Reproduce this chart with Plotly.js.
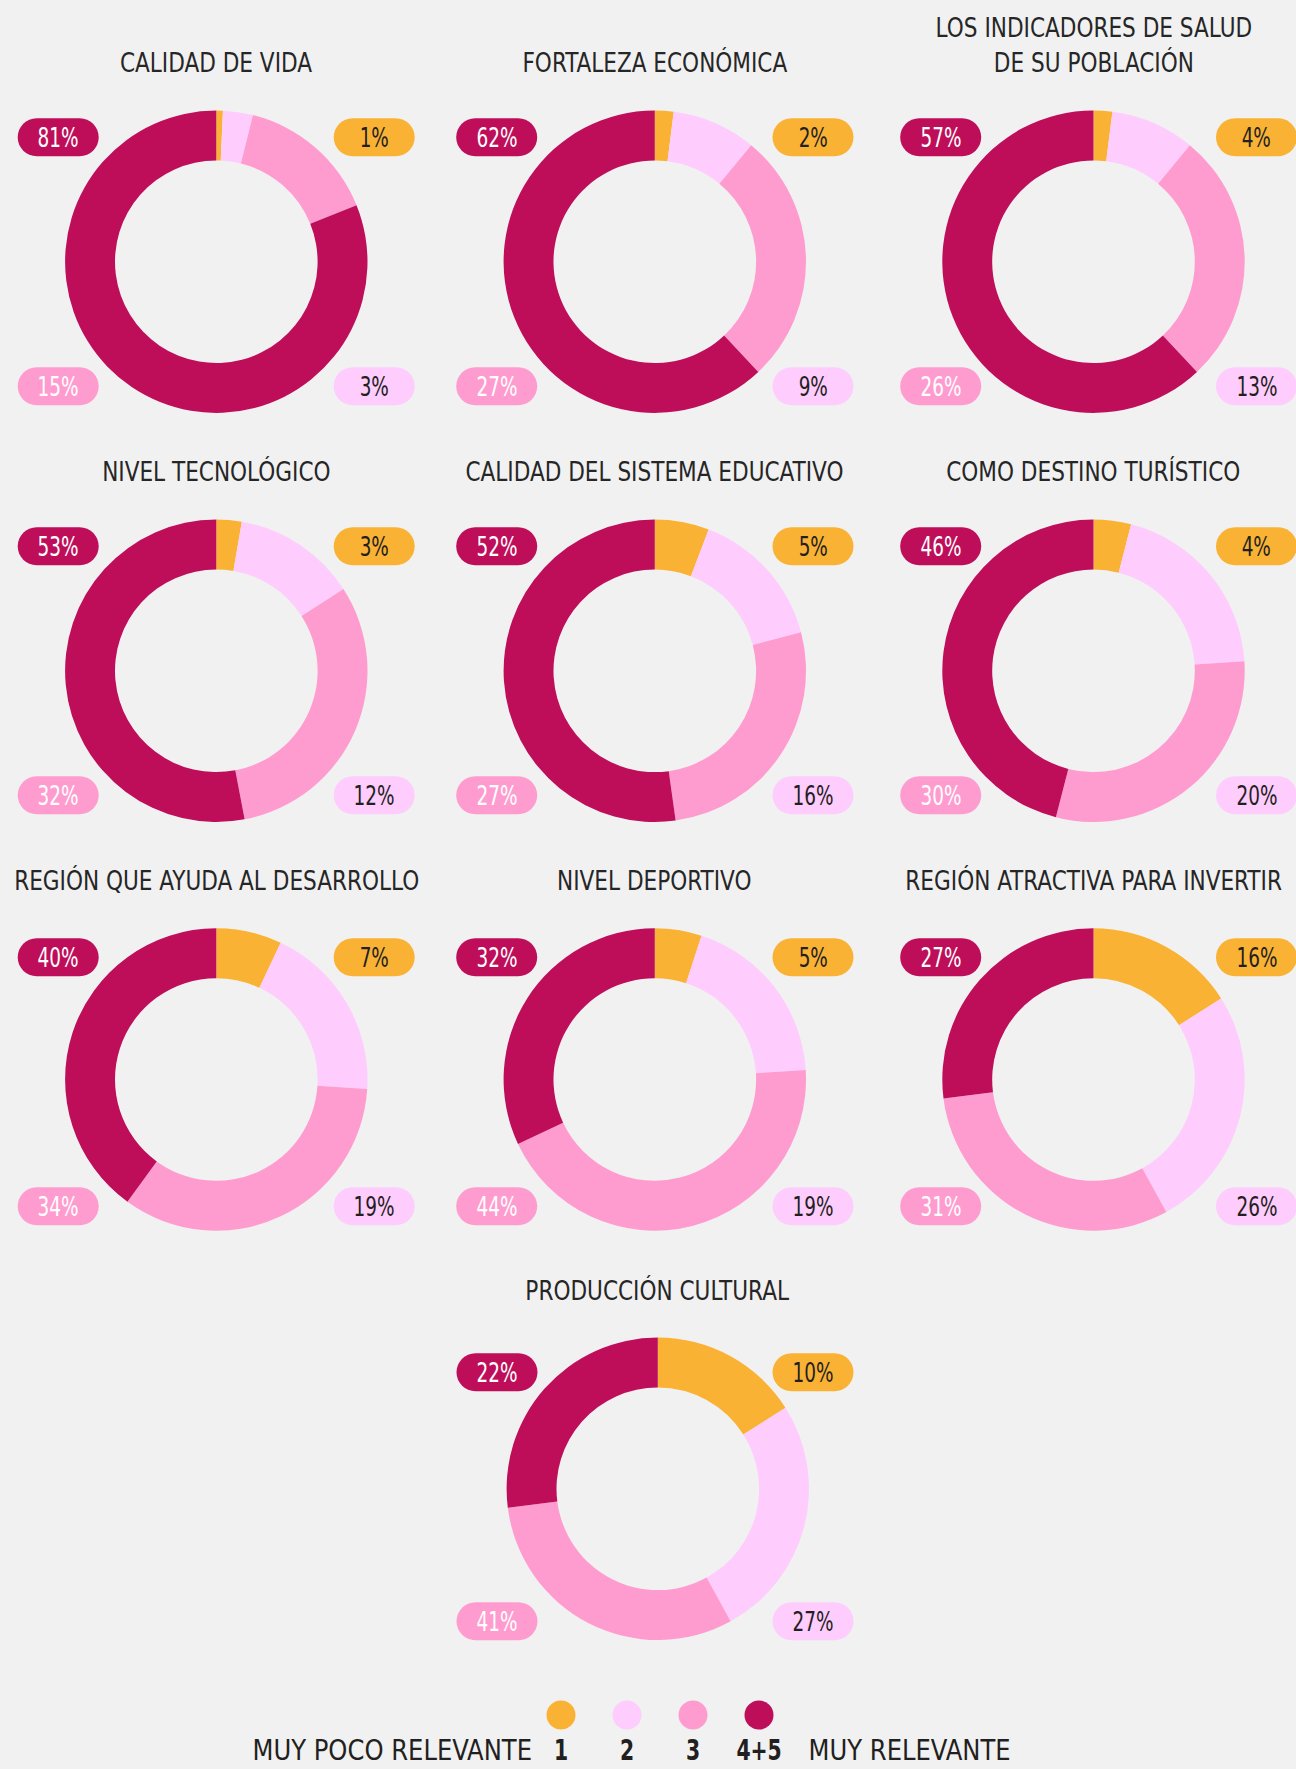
<!DOCTYPE html>
<html>
<head>
<meta charset="utf-8">
<script src="https://cdn.plot.ly/plotly-3.0.1.min.js"></script>
<style>
  html, body { margin: 0; padding: 0; background: #f1f1f1; }
  #chart { width: 1296px; height: 1769px; }
</style>
</head>
<body>
<div id="chart"></div>
<script>
// ---------------- DATA ----------------
const titles = [
  "CALIDAD DE VIDA",
  "FORTALEZA ECONÓMICA",
  "LOS INDICADORES DE SALUD<br>DE SU POBLACIÓN",
  "NIVEL TECNOLÓGICO",
  "CALIDAD DEL SISTEMA EDUCATIVO",
  "COMO DESTINO TURÍSTICO",
  "REGIÓN QUE AYUDA AL DESARROLLO",
  "NIVEL DEPORTIVO",
  "REGIÓN ATRACTIVA PARA INVERTIR",
  "PRODUCCIÓN CULTURAL"
];
const levelNames = ["1", "2", "3", "4+5"];

// slice shares as drawn in the rings (%)
const slice1  = [0.7, 2, 2, 2.7, 5.8, 4, 7, 5, 16, 16];
const slice2  = [3.2, 9, 9, 13.2, 15.1, 20, 19, 19, 26, 26];
const slice3  = [15, 27, 27, 31.1, 26.9, 30, 34, 44, 31, 31];
const slice45 = [81.1, 62, 62, 53, 52.2, 46, 40, 32, 27, 27];

// percentages printed in the labels
const label1  = [1, 2, 4, 3, 5, 4, 7, 5, 16, 10];
const label2  = [3, 9, 13, 12, 16, 20, 19, 19, 26, 27];
const label3  = [15, 27, 26, 32, 27, 30, 34, 44, 31, 41];
const label45 = [81, 62, 57, 53, 52, 46, 40, 32, 27, 22];

const legendLeft = "MUY POCO RELEVANTE";
const legendRight = "MUY RELEVANTE";

// ---------------- STYLE / LAYOUT ----------------
const W = 1296, H = 1769;
const BG = "#f1f1f1";
const colors = ["#fab234", "#ffccfe", "#ff9ccf", "#be0e5a"];
const pillText = ["#231f20", "#231f20", "#ffffff", "#ffffff"];
const FONT = '"DejaVu Sans Condensed", "Liberation Sans Narrow", sans-serif';
const TITLE_COLOR = "#262626";

const R = 151.2;       // ring outer radius (px)
const HOLE = 0.67;

// chart grid positions (px)
const centers = [
  [216.3, 261.7], [654.8, 261.7], [1093.5, 261.7],
  [216.3, 670.8], [654.8, 670.8], [1093.5, 670.8],
  [216.3, 1079.5], [654.8, 1079.5], [1093.5, 1079.5],
  [657.8, 1488.8]
];
const pillXs = [
  [58.2, 374.2], [496.7, 813], [940.7, 1256.5],
  [58.2, 374.2], [496.7, 813], [940.7, 1256.5],
  [58.2, 374.2], [496.7, 813], [940.7, 1256.5],
  [497, 813]
];
const rowPillY = [[137.2, 386.3], [546.2, 795.3], [957.2, 1206.2], [1372.2, 1621.2]];
const rowTitleY = [62.7, 471.7, 880.7, 1290.3];

const traces = [];
const annotations = [];
const annScale = [];   // horizontal condensing per annotation (font is wider than the original)
const shapes = [];

function addAnn(a, s) { annotations.push(a); annScale.push(s); }

function pillPath(cx, cy, w, h) {
  const r = h / 2, k = 0.5523 * r;
  const xl = cx - w / 2 + r, xr = cx + w / 2 - r;
  const yt = cy - r, yb = cy + r;
  return `M ${xl},${yt} L ${xr},${yt} ` +
    `C ${xr + k},${yt} ${xr + r},${cy - k} ${xr + r},${cy} ` +
    `C ${xr + r},${cy + k} ${xr + k},${yb} ${xr},${yb} ` +
    `L ${xl},${yb} ` +
    `C ${xl - k},${yb} ${xl - r},${cy + k} ${xl - r},${cy} ` +
    `C ${xl - r},${cy - k} ${xl - k},${yt} ${xl},${yt} Z`;
}

titles.forEach((t, i) => {
  const [cx, cy] = centers[i];
  const row = Math.floor(i / 3);
  traces.push({
    type: "pie",
    values: [slice1[i], slice2[i], slice3[i], slice45[i]],
    labels: levelNames,
    marker: { colors: colors, line: { width: 0 } },
    hole: HOLE,
    sort: false,
    direction: "clockwise",
    rotation: 0,
    textinfo: "none",
    hoverinfo: "label+value",
    showlegend: false,
    domain: {
      x: [(cx - R) / W, (cx + R) / W],
      y: [1 - (cy + R) / H, 1 - (cy - R) / H]
    }
  });

  // title
  const twoLine = t.indexOf("<br>") >= 0;
  addAnn({
    xref: "x", yref: "y", x: cx, y: twoLine ? 45 : rowTitleY[row],
    text: t, showarrow: false, xanchor: "center", yanchor: "middle",
    font: { family: FONT, size: 27, color: TITLE_COLOR }
  }, 0.89);

  // pills: top-right = 1, bottom-right = 2, bottom-left = 3, top-left = 4+5
  const [xl, xr] = pillXs[i];
  const [yt, yb] = rowPillY[row];
  const vals = [label1[i], label2[i], label3[i], label45[i]];
  const pos = [[xr, yt], [xr, yb], [xl, yb], [xl, yt]];
  vals.forEach((v, k) => {
    const [px, py] = pos[k];
    shapes.push({
      type: "path", xref: "x", yref: "y",
      path: pillPath(px, py, 81, 38),
      fillcolor: colors[k], line: { width: 0 }, layer: "above"
    });
    addAnn({
      xref: "x", yref: "y", x: px, y: py + 0.5,
      text: v + "%", showarrow: false, xanchor: "center", yanchor: "middle",
      font: { family: FONT, size: 27, color: pillText[k] }
    }, 0.76);
  });
});

// legend
const legendX = [561, 627, 693, 759];
traces.push({
  type: "scatter", mode: "markers",
  x: legendX, y: legendX.map(() => 1715),
  marker: { size: 29, color: colors, line: { width: 0 } },
  hoverinfo: "skip", showlegend: false, cliponaxis: false
});
levelNames.forEach((n, k) => {
  addAnn({
    xref: "x", yref: "y", x: legendX[k], y: H,
    text: "<b>" + n + "</b>", showarrow: false, xanchor: "center", yanchor: "bottom",
    font: { family: FONT, size: 29, color: "#231f20" }
  }, 0.78);
});
addAnn({
  xref: "x", yref: "y", x: 392, y: H, text: legendLeft, showarrow: false,
  xanchor: "center", yanchor: "bottom",
  font: { family: FONT, size: 29, color: "#231f20" }
}, 0.93);
addAnn({
  xref: "x", yref: "y", x: 909, y: H, text: legendRight, showarrow: false,
  xanchor: "center", yanchor: "bottom",
  font: { family: FONT, size: 29, color: "#231f20" }
}, 0.93);

const layout = {
  width: W, height: H,
  margin: { l: 0, r: 0, t: 0, b: 0, pad: 0 },
  paper_bgcolor: BG, plot_bgcolor: BG,
  xaxis: { range: [0, W], visible: false, fixedrange: true },
  yaxis: { range: [H, 0], visible: false, fixedrange: true },
  showlegend: false,
  annotations: annotations,
  shapes: shapes
};

function condense() {
  document.querySelectorAll("#chart g.annotation").forEach(g => {
    const idx = +g.getAttribute("data-index");
    const s = annScale[idx];
    const txt = g.querySelector("text.annotation-text");
    if (txt && s) {
      txt.style.transformBox = "fill-box";
      txt.style.transformOrigin = "center";
      txt.style.transform = "scaleX(" + s + ")";
    }
  });
}

Plotly.newPlot("chart", traces, layout, { staticPlot: true, displayModeBar: false }).then(condense);
</script>
</body>
</html>
